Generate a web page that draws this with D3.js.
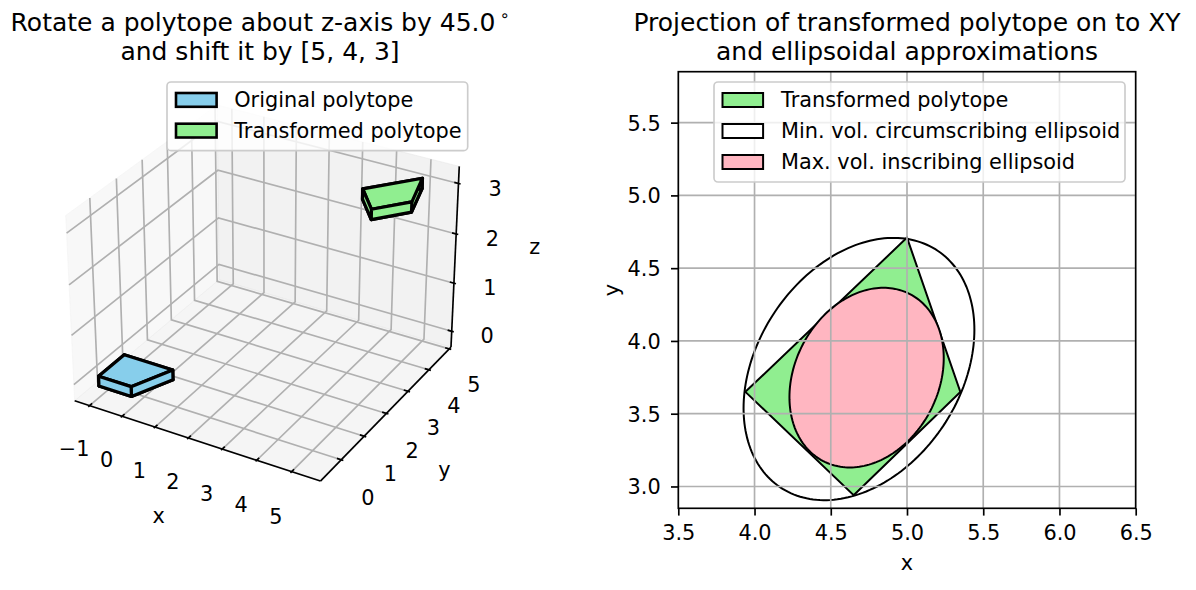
<!DOCTYPE html>
<html>
<head>
<meta charset="utf-8">
<script src="https://cdn.jsdelivr.net/npm/d3@7"></script>
<style>
  body { margin: 0; background: #fff; }
  text { font-family: "DejaVu Sans", sans-serif; fill: #000; }
</style>
</head>
<body>
<div id="chart"></div>
<script>
// ---- data ----
// original polytope (a prism): xy outline and z extent
var origX = [-1, 0, 0.5, -1];
var origY = [-0.5, -0.5, 0.5, 0.5];
var origZ = [-0.1, 0.1];
// transformed polytope: rotated by 45 deg and shifted by [5, 4, 3]
var transX = [4.65, 5.35, 5.0, 3.94];
var transY = [2.94, 3.65, 4.71, 3.65];
var transZ = [2.9, 3.1];

var xTicks3d = [-1, 0, 1, 2, 3, 4, 5];
var yTicks3d = [0, 1, 2, 3, 4, 5];
var zTicks3d = [0, 1, 2, 3];

var xTicks2d = [3.5, 4.0, 4.5, 5.0, 5.5, 6.0, 6.5];
var yTicks2d = [3.0, 3.5, 4.0, 4.5, 5.0, 5.5];

// ellipses: centre and shape matrix
var outerCenter = [4.685, 3.807];
var outerShape = [[0.573, 0.204], [0.204, 0.812]];
var innerCenter = [4.735, 3.748];
var innerShape = [[0.256, 0.068], [0.068, 0.381]];

var legend3d = ["Original polytope", "Transformed polytope"];
var legend2d = ["Transformed polytope", "Min. vol. circumscribing ellipsoid", "Max. vol. inscribing ellipsoid"];

var fs = 20.83;     // 10pt at 150 dpi
var titleFs = 25;   // 12pt

var svg = d3.select("#chart").append("svg")
    .attr("width", 1196)
    .attr("height", 590);

// ================= Left panel: 3D view =================
var elev = 30, azim = -60, camDist = 10;
var boxAspect = [4, 4, 3];
var bnorm = Math.hypot(boxAspect[0], boxAspect[1], boxAspect[2]);
var aspect = boxAspect.map(a => a * 1.8294640721620434 / bnorm);

function padded(vals) {
    var e = d3.extent(vals);
    var m = (e[1] - e[0]) * 0.05;
    return [e[0] - m, e[1] + m];
}
var xLim = padded(origX.concat(transX));
var yLim = padded(origY.concat(transY));
var zLim = padded(origZ.concat(transZ));

var sx = d3.scaleLinear().domain(xLim).range([0, aspect[0]]);
var sy = d3.scaleLinear().domain(yLim).range([0, aspect[1]]);
var sz = d3.scaleLinear().domain(zLim).range([0, aspect[2]]);

// pane box is a bit larger than the limits
function boxOf(lim) { var d = (lim[1] - lim[0]) / 48; return [lim[0] - d, lim[1] + d]; }
var bx = boxOf(xLim), by = boxOf(yLim), bz = boxOf(zLim);

function dot(a, b) { return a[0] * b[0] + a[1] * b[1] + a[2] * b[2]; }
function cross(a, b) { return [a[1] * b[2] - a[2] * b[1], a[2] * b[0] - a[0] * b[2], a[0] * b[1] - a[1] * b[0]]; }
function unit(a) { var n = Math.hypot(a[0], a[1], a[2]); return a.map(c => c / n); }

var er = elev * Math.PI / 180, ar = azim * Math.PI / 180;
var wv = [Math.cos(er) * Math.cos(ar), Math.cos(er) * Math.sin(ar), Math.sin(er)];
var uv = unit(cross([0, 0, 1], wv));
var vv = cross(wv, uv);
var R = aspect.map(a => a / 2);

// projected (perspective) coords -> pixels
var screenX = d3.scaleLinear().domain([0, 0.1]).range([266.3, 266.3 + 236.5]);
var screenY = d3.scaleLinear().domain([0, 0.1]).range([284, 284 - 236.5]);

function projectN(n) {
    var q = [n[0] - R[0], n[1] - R[1], n[2] - R[2]];
    var depth = camDist - dot(wv, q);
    return [screenX(dot(uv, q) / depth), screenY(dot(vv, q) / depth), dot(wv, q)];
}
function project(p) { return projectN([sx(p[0]), sy(p[1]), sz(p[2])]); }

var line3d = d3.line().x(d => project(d)[0]).y(d => project(d)[1]);

var g3 = svg.append("g");

// Step 1: panes
var panes = [
    { pts: [[bx[0], by[0], bz[0]], [bx[0], by[1], bz[0]], [bx[0], by[1], bz[1]], [bx[0], by[0], bz[1]]], c: "rgb(242,242,242)" },
    { pts: [[bx[0], by[1], bz[0]], [bx[1], by[1], bz[0]], [bx[1], by[1], bz[1]], [bx[0], by[1], bz[1]]], c: "rgb(230,230,230)" },
    { pts: [[bx[0], by[0], bz[0]], [bx[1], by[0], bz[0]], [bx[1], by[1], bz[0]], [bx[0], by[1], bz[0]]], c: "rgb(236,236,236)" }
];
g3.selectAll("path.pane").data(panes).enter().append("path")
    .attr("class", "pane")
    .attr("d", d => line3d(d.pts) + "Z")
    .attr("fill", d => d.c)
    .attr("fill-opacity", 0.5)
    .attr("stroke", d => d.c)
    .attr("stroke-opacity", 0.5)
    .attr("stroke-width", 1);

// Step 2: grid lines
var grid3d = [];
xTicks3d.forEach(t => grid3d.push([[t, by[1], bz[1]], [t, by[1], bz[0]], [t, by[0], bz[0]]]));
yTicks3d.forEach(t => grid3d.push([[bx[0], t, bz[1]], [bx[0], t, bz[0]], [bx[1], t, bz[0]]]));
zTicks3d.forEach(t => grid3d.push([[bx[1], by[1], t], [bx[0], by[1], t], [bx[0], by[0], t]]));
g3.selectAll("path.grid").data(grid3d).enter().append("path")
    .attr("class", "grid")
    .attr("d", d => line3d(d))
    .attr("fill", "none")
    .attr("stroke", "#b0b0b0")
    .attr("stroke-width", 1.67);

// Step 3: axis lines
var axisLines = [
    [[bx[0], by[0], bz[0]], [bx[1], by[0], bz[0]]],
    [[bx[1], by[0], bz[0]], [bx[1], by[1], bz[0]]],
    [[bx[1], by[1], bz[0]], [bx[1], by[1], bz[1]]]
];
g3.selectAll("path.axline").data(axisLines).enter().append("path")
    .attr("class", "axline")
    .attr("d", d => line3d(d))
    .attr("stroke", "#000")
    .attr("stroke-width", 1.67);

// Step 4: ticks and tick labels
var dX = (bx[1] - bx[0]) / 12, dY = (by[1] - by[0]) / 12;
var tickSegs = [];
xTicks3d.forEach(t => tickSegs.push([[t, by[0] - 0.1 * dY, bz[0]], [t, by[0] + 0.2 * dY, bz[0]]]));
yTicks3d.forEach(t => tickSegs.push([[bx[1] + 0.1 * dX, t, bz[0]], [bx[1] - 0.2 * dX, t, bz[0]]]));
zTicks3d.forEach(t => tickSegs.push([[bx[1] + 0.1 * dX, by[1], t], [bx[1] - 0.2 * dX, by[1], t]]));
g3.selectAll("path.tick").data(tickSegs).enter().append("path")
    .attr("class", "tick")
    .attr("d", d => line3d(d))
    .attr("stroke", "#000")
    .attr("stroke-width", 1.67);

var fmt = d => (d < 0 ? "\u2212" + Math.abs(d) : String(d));
var tickLabels = [];
xTicks3d.forEach(t => tickLabels.push({ t: t, p: projectN([sx(t), sy(by[0]) - 0.127, sz(bz[0]) - 0.144]) }));
yTicks3d.forEach(t => tickLabels.push({ t: t, p: projectN([sx(bx[1]) + 0.127, sy(t), sz(bz[0]) - 0.144]) }));
zTicks3d.forEach(t => tickLabels.push({ t: t, p: projectN([sx(bx[1]) + 0.118, sy(by[1]) + 0.118, sz(t) - 0.047]) }));
g3.selectAll("text.tl").data(tickLabels).enter().append("text")
    .attr("class", "tl")
    .attr("x", d => d.p[0])
    .attr("y", d => d.p[1])
    .attr("dy", "0.36em")
    .attr("text-anchor", "middle")
    .style("font-size", fs + "px")
    .text(d => fmt(d.t));

// axis labels
var xMid = (bx[0] + bx[1]) / 2, yMid = (by[0] + by[1]) / 2, zMid = (bz[0] + bz[1]) / 2;
var axLabels = [
    { s: "x", p: projectN([sx(xMid), sy(by[0]) - 0.285, sz(bz[0]) - 0.214]) },
    { s: "y", p: projectN([sx(bx[1]) + 0.27, sy(yMid), sz(bz[0]) - 0.21]) },
    { s: "z", p: projectN([sx(bx[1]) + 0.258, sy(by[1]) + 0.258, sz(zMid)]) }
];
g3.selectAll("text.al").data(axLabels).enter().append("text")
    .attr("class", "al")
    .attr("x", d => d.p[0])
    .attr("y", d => d.p[1])
    .attr("dy", "0.3em")
    .attr("text-anchor", "middle")
    .style("font-size", fs + "px")
    .text(d => d.s);

// Step 5: polytopes, faces sorted far to near
function prismFaces(xs, ys, zs, color) {
    var lower = xs.map((x, i) => [x, ys[i], zs[0]]);
    var upper = xs.map((x, i) => [x, ys[i], zs[1]]);
    var faces = [lower, upper];
    for (var i = 0; i < xs.length; i++) {
        var j = (i + 1) % xs.length;
        faces.push([lower[i], lower[j], upper[j], upper[i]]);
    }
    return faces.map(f => ({ pts: f, color: color, depth: d3.mean(f, p => project(p)[2]) }));
}
var faces = prismFaces(origX, origY, origZ, "skyblue")
    .concat(prismFaces(transX, transY, transZ, "lightgreen"));
faces.sort((a, b) => a.depth - b.depth);
g3.selectAll("path.face").data(faces).enter().append("path")
    .attr("class", "face")
    .attr("d", d => line3d(d.pts) + "Z")
    .attr("fill", d => d.color)
    .attr("stroke", "#000")
    .attr("stroke-width", 3.2)
    .attr("stroke-linejoin", "round");

// Step 6: legend (3D)
var leg3 = g3.append("g");
leg3.append("rect")
    .attr("x", 167).attr("y", 82).attr("width", 300.7).attr("height", 68.7)
    .attr("rx", 4)
    .attr("fill", "#fff").attr("fill-opacity", 0.8)
    .attr("stroke", "#cccccc").attr("stroke-width", 1.67);
var leg3Rows = leg3.selectAll("g.row").data(legend3d).enter().append("g")
    .attr("transform", (d, i) => `translate(0, ${107.3 + i * 30.7})`);
leg3Rows.append("rect")
    .attr("x", 176).attr("y", -14.3).attr("width", 40.6).attr("height", 13.8)
    .attr("fill", (d, i) => i == 0 ? "skyblue" : "lightgreen")
    .attr("stroke", "#000").attr("stroke-width", 2.6);
leg3Rows.append("text")
    .attr("x", 234.2).attr("y", 0)
    .style("font-size", fs + "px")
    .text(d => d);

// title (left)
var t1 = svg.append("text")
    .attr("x", 260).attr("y", 31)
    .attr("text-anchor", "middle")
    .style("font-size", titleFs + "px");
t1.append("tspan").text("Rotate a polytope about z-axis by 45.0");
t1.append("tspan").attr("dx", 4).attr("dy", -10).style("font-size", "16px").text("\u2218");
svg.append("text")
    .attr("x", 260).attr("y", 59.5)
    .attr("text-anchor", "middle")
    .style("font-size", titleFs + "px")
    .text("and shift it by [5, 4, 3]");

// ================= Right panel: projection on XY =================
var plotLeft = 678.3, plotRight = 1135.7, plotTop = 71.7, plotBottom = 508.3;
var xScale = d3.scaleLinear().domain([3.5, 6.5]).range([plotLeft, plotRight]);
var yScale = d3.scaleLinear().domain([2.85, 5.85]).range([plotBottom, plotTop]);

var g2 = svg.append("g");
g2.append("defs").append("clipPath").attr("id", "clip2")
    .append("rect").attr("x", plotLeft).attr("y", plotTop)
    .attr("width", plotRight - plotLeft).attr("height", plotBottom - plotTop);
var plot = g2.append("g").attr("clip-path", "url(#clip2)");

function ellipsePoints(c, Q) {
    var l11 = Math.sqrt(Q[0][0]);
    var l21 = Q[1][0] / l11;
    var l22 = Math.sqrt(Q[1][1] - l21 * l21);
    return d3.range(0, 200).map(i => {
        var t = i / 200 * 2 * Math.PI;
        return [c[0] + l11 * Math.cos(t), c[1] + l21 * Math.cos(t) + l22 * Math.sin(t)];
    });
}
var line2d = d3.line().x(d => xScale(d[0])).y(d => yScale(d[1])).curve(d3.curveLinearClosed);

plot.append("path")
    .attr("d", line2d(ellipsePoints(outerCenter, outerShape)))
    .attr("fill", "#fff").attr("stroke", "#000").attr("stroke-width", 2);
plot.append("path")
    .attr("d", line2d(transX.map((x, i) => [x, transY[i]])))
    .attr("fill", "lightgreen").attr("stroke", "#000").attr("stroke-width", 2);
plot.append("path")
    .attr("d", line2d(ellipsePoints(innerCenter, innerShape)))
    .attr("fill", "lightpink").attr("stroke", "#000").attr("stroke-width", 2);

// grid above patches (matplotlib default)
plot.selectAll("line.gx").data(xTicks2d).enter().append("line")
    .attr("class", "gx")
    .attr("x1", d => xScale(d)).attr("x2", d => xScale(d))
    .attr("y1", plotTop).attr("y2", plotBottom)
    .attr("stroke", "#b0b0b0").attr("stroke-width", 1.67);
plot.selectAll("line.gy").data(yTicks2d).enter().append("line")
    .attr("class", "gy")
    .attr("y1", d => yScale(d)).attr("y2", d => yScale(d))
    .attr("x1", plotLeft).attr("x2", plotRight)
    .attr("stroke", "#b0b0b0").attr("stroke-width", 1.67);

// axes
var xAxis = g2.append("g")
    .attr("transform", `translate(0, ${plotBottom})`)
    .call(d3.axisBottom(xScale).tickValues(xTicks2d).tickFormat(d3.format(".1f"))
        .tickSize(7.3).tickPadding(9.5).tickSizeOuter(0));
var yAxis = g2.append("g")
    .attr("transform", `translate(${plotLeft}, 0)`)
    .call(d3.axisLeft(yScale).tickValues(yTicks2d).tickFormat(d3.format(".1f"))
        .tickSize(7.3).tickPadding(10.3).tickSizeOuter(0));
[xAxis, yAxis].forEach(a => {
    a.select(".domain").remove();
    a.selectAll("line").attr("stroke", "#000").attr("stroke-width", 1.67);
    a.selectAll("text").style("font-size", fs + "px").style("font-family", "DejaVu Sans");
});
yAxis.selectAll("text").attr("dy", "0.36em");

g2.append("rect")
    .attr("x", plotLeft).attr("y", plotTop)
    .attr("width", plotRight - plotLeft).attr("height", plotBottom - plotTop)
    .attr("fill", "none").attr("stroke", "#000").attr("stroke-width", 1.67);

g2.append("text")
    .attr("x", (plotLeft + plotRight) / 2).attr("y", 570)
    .attr("text-anchor", "middle")
    .style("font-size", fs + "px")
    .text("x");
g2.append("text")
    .attr("transform", `translate(619, ${(plotTop + plotBottom) / 2}) rotate(-90)`)
    .attr("text-anchor", "middle")
    .style("font-size", fs + "px")
    .text("y");

// legend (2D)
var leg2 = g2.append("g");
leg2.append("rect")
    .attr("x", 714).attr("y", 82).attr("width", 411).attr("height", 100)
    .attr("rx", 4)
    .attr("fill", "#fff").attr("fill-opacity", 0.8)
    .attr("stroke", "#cccccc").attr("stroke-width", 1.67);
var legColors = ["lightgreen", "#fff", "lightpink"];
var leg2Rows = leg2.selectAll("g.row").data(legend2d).enter().append("g")
    .attr("transform", (d, i) => `translate(0, ${107.3 + i * 31})`);
leg2Rows.append("rect")
    .attr("x", 722.5).attr("y", -14.3).attr("width", 40.6).attr("height", 14)
    .attr("fill", (d, i) => legColors[i])
    .attr("stroke", "#000").attr("stroke-width", 2);
leg2Rows.append("text")
    .attr("x", 781).attr("y", 0)
    .style("font-size", fs + "px")
    .text(d => d);

// title (right)
svg.append("text")
    .attr("x", (plotLeft + plotRight) / 2).attr("y", 31)
    .attr("text-anchor", "middle")
    .style("font-size", titleFs + "px")
    .text("Projection of transformed polytope on to XY");
svg.append("text")
    .attr("x", (plotLeft + plotRight) / 2).attr("y", 59.5)
    .attr("text-anchor", "middle")
    .style("font-size", titleFs + "px")
    .text("and ellipsoidal approximations");
</script>
</body>
</html>
